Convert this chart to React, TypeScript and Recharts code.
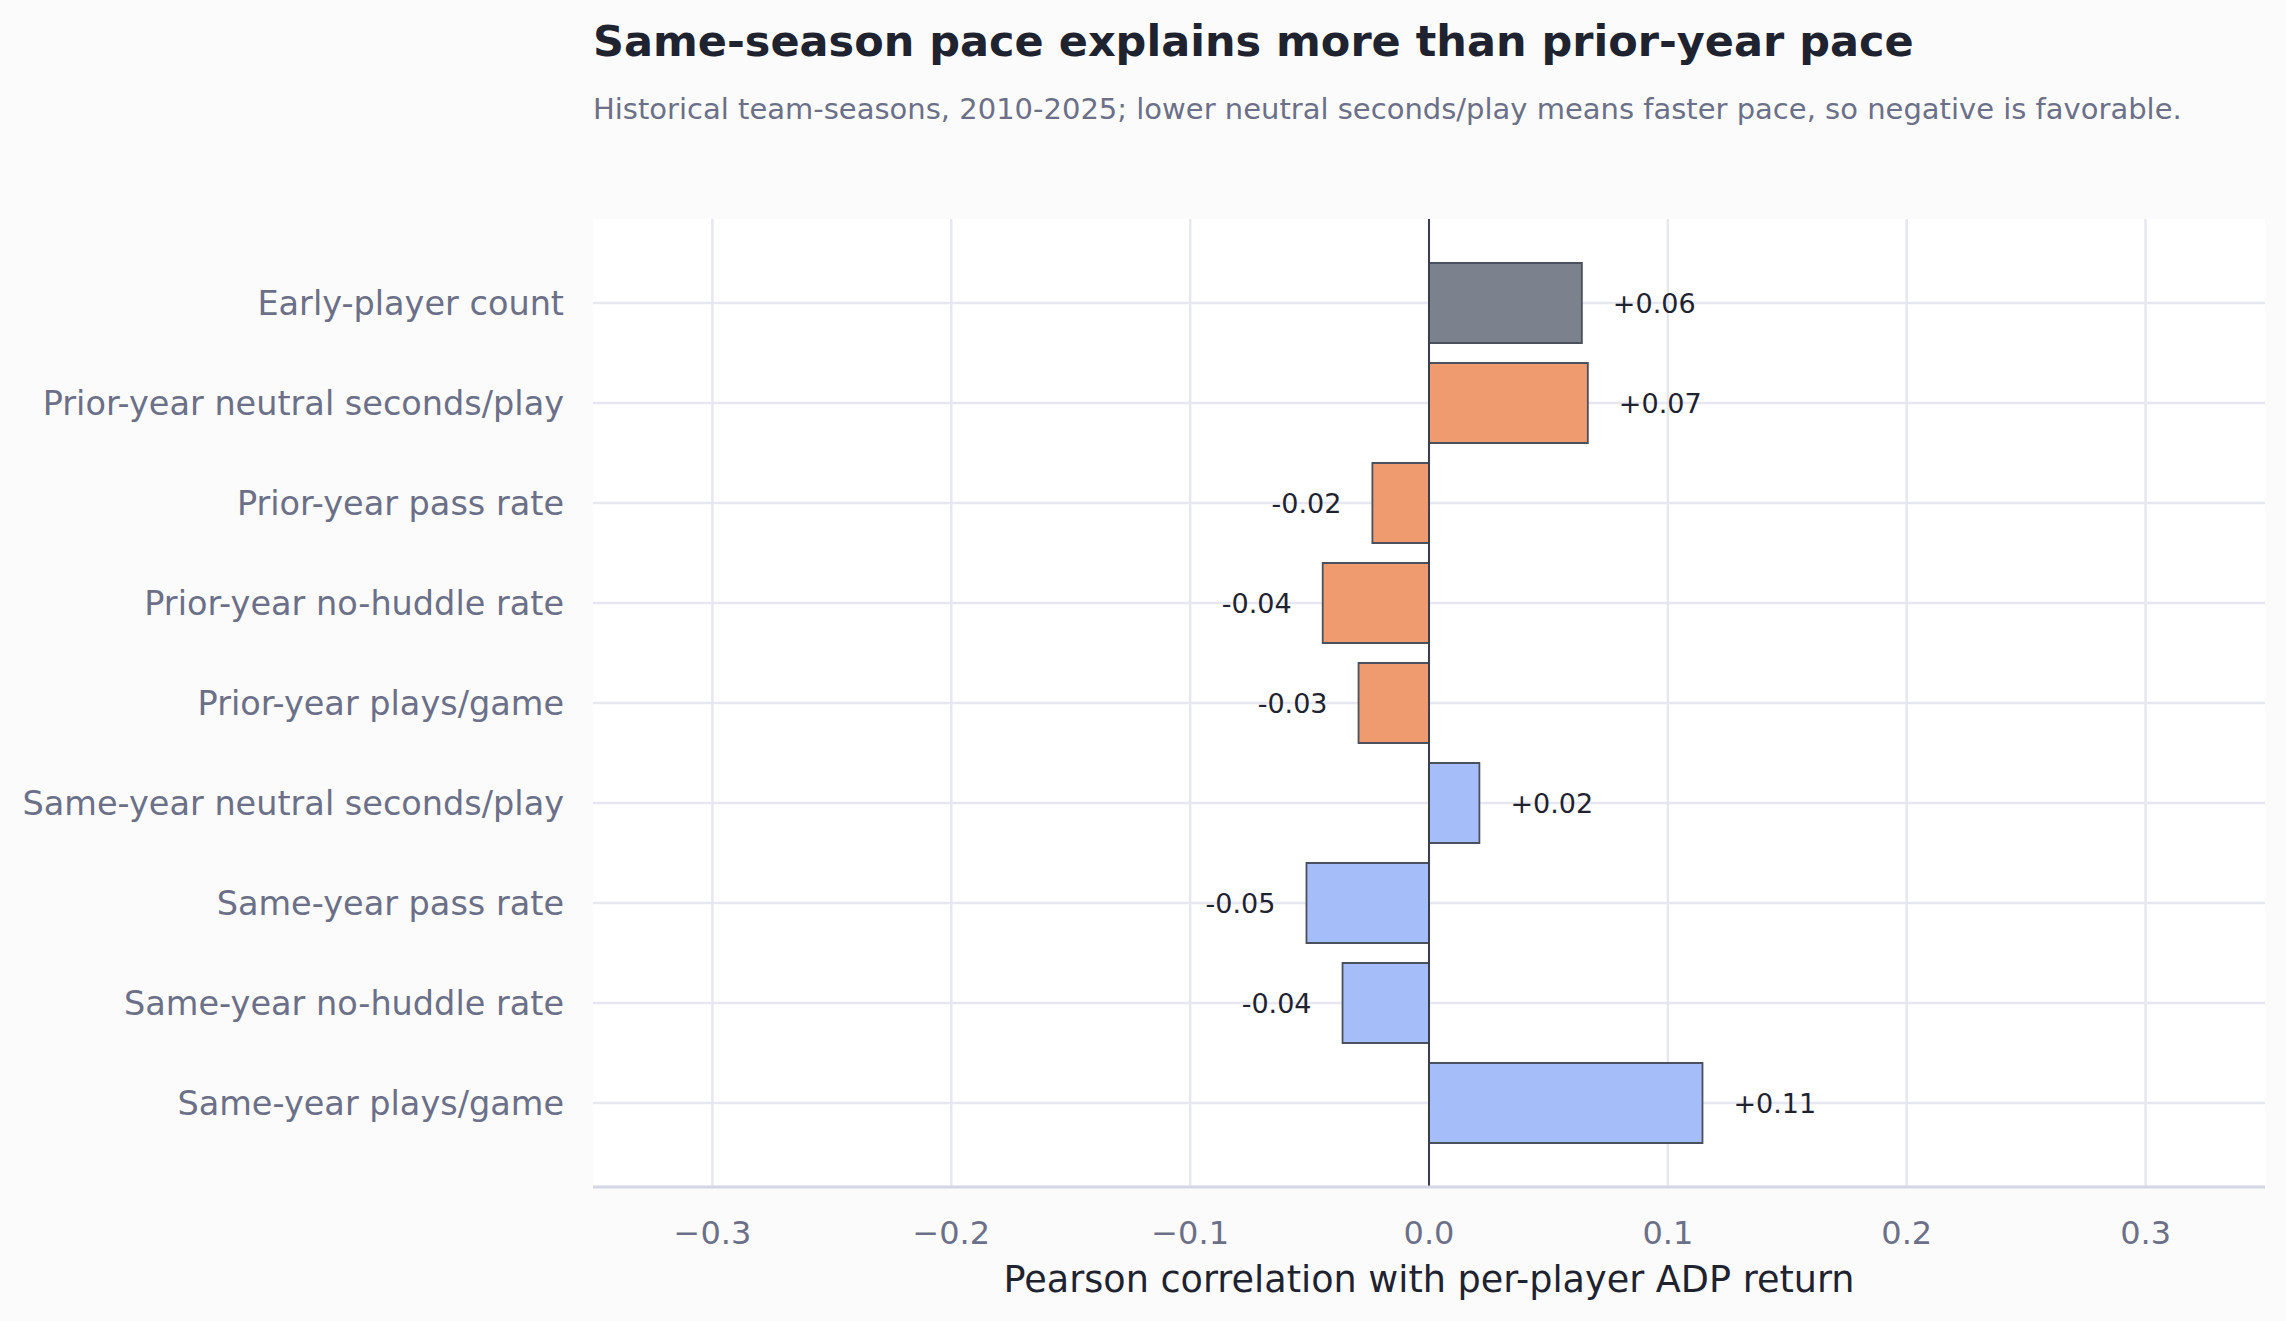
import { BarChart, Bar, XAxis, YAxis, CartesianGrid, ReferenceLine, Cell, LabelList } from "recharts";

const categories = [
  "Early-player count",
  "Prior-year neutral seconds/play",
  "Prior-year pass rate",
  "Prior-year no-huddle rate",
  "Prior-year plays/game",
  "Same-year neutral seconds/play",
  "Same-year pass rate",
  "Same-year no-huddle rate",
  "Same-year plays/game",
];
const correlations = [0.064, 0.0665, -0.0237, -0.0445, -0.0295, 0.0211, -0.0513, -0.0362, 0.1145];
const groups = ["count", "prior", "prior", "prior", "prior", "same", "same", "same", "same"];
const xTicks = [-0.3, -0.2, -0.1, 0, 0.1, 0.2, 0.3];

const GROUP_COLORS: Record<string, string> = {
  count: "#7b818d",
  prior: "#f09a70",
  same: "#a5befa",
};

const FONT = "'DejaVu Sans', sans-serif";
const GRID = "#e6e7f0";
const data = categories.map((label, i) => ({ label, value: correlations[i], group: groups[i] }));

const fmtTick = (v: number) => (v < 0 ? `\u2212${Math.abs(v).toFixed(1)}` : v.toFixed(1));

function ValueLabel(props: any) {
  const { x, y, width, height, value } = props;
  const v = Number(value);
  const left = Math.min(x, x + width);
  const right = Math.max(x, x + width);
  const cy = y + height / 2;
  const pos = v >= 0;
  return (
    <text
      x={pos ? right + 31 : left - 31}
      y={cy}
      textAnchor={pos ? "start" : "end"}
      dominantBaseline="central"
      fontSize={27}
      fontFamily={FONT}
      fill="#1f2330"
    >
      {pos ? `+${v.toFixed(2)}` : v.toFixed(2)}
    </text>
  );
}

export default function App() {
  return (
    <div style={{ position: "fixed", left: 0, top: 0, width: 2286, height: 1321, background: "#fbfbfb", fontFamily: FONT }}>
      <BarChart
        layout="vertical"
        width={2286}
        height={1321}
        data={data}
        margin={{ top: 219, right: 21, left: 0, bottom: 0 }}
      >
        <CartesianGrid fill="#ffffff" stroke={GRID} strokeWidth={2.5} syncWithTicks />
        <XAxis
          type="number"
          domain={[-0.35, 0.35]}
          ticks={xTicks}
          tickFormatter={fmtTick}
          height={134}
          tickSize={0}
          tickMargin={34}
          axisLine={{ stroke: "#d4d6e3", strokeWidth: 3 }}
          tick={{ fontSize: 32, fill: "#6b7088", fontFamily: FONT }}
        />
        <YAxis
          type="category"
          dataKey="label"
          width={593}
          padding={{ top: 34, bottom: 34 }}
          tickSize={0}
          tickMargin={29}
          axisLine={false}
          tickLine={false}
          tick={{ fontSize: 33.5, fill: "#6b7088", fontFamily: FONT }}
        />
        <Bar dataKey="value" barSize={80} stroke="#4b515c" strokeWidth={1.8} isAnimationActive={false}>
          {data.map((d) => (
            <Cell key={d.label} fill={GROUP_COLORS[d.group]} />
          ))}
          <LabelList dataKey="value" content={ValueLabel} />
        </Bar>
        <ReferenceLine x={0} stroke="#3a3f4b" strokeWidth={2} />
      </BarChart>
      <svg width={2286} height={1321} style={{ position: "absolute", left: 0, top: 0, pointerEvents: "none" }}>
        <text x={593} y={56} fontSize={43} fontWeight="bold" fontFamily={FONT} fill="#1f2330">
          Same-season pace explains more than prior-year pace
        </text>
        <text x={593} y={119} fontSize={29} fontFamily={FONT} fill="#6b7088">
          Historical team-seasons, 2010-2025; lower neutral seconds/play means faster pace, so negative is favorable.
        </text>
        <text x={1429} y={1292} fontSize={36.6} textAnchor="middle" fontFamily={FONT} fill="#1f2330">
          Pearson correlation with per-player ADP return
        </text>
      </svg>
    </div>
  );
}
